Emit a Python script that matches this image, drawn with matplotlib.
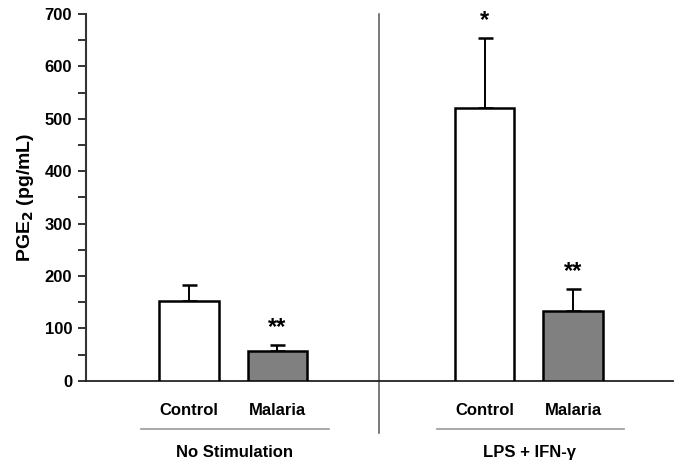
import matplotlib
matplotlib.use("Agg")
import matplotlib.pyplot as plt
import matplotlib.transforms as mtransforms
from matplotlib.ticker import MultipleLocator

plt.rcParams['font.family'] = ['Liberation Sans', 'DejaVu Sans']
plt.rcParams['font.weight'] = 'bold'

# ---- data ----
groups = ["No Stimulation", "LPS + IFN-\u03b3"]
categories = ["Control", "Malaria"]
means = [152, 56, 521, 134]
sem_upper = [31, 13, 134, 41]
significance = ["", "**", "*", "**"]
bar_colors = ["white", "#808080", "white", "#808080"]
y_ticks = [0, 100, 200, 300, 400, 500, 600, 700]

# ---- layout ----
group_gap = 3.34
width = 0.67
positions = []
for g in range(len(groups)):
    for c in range(len(categories)):
        positions.append(g * group_gap + c)

fig = plt.figure(figsize=(6.75, 4.72), dpi=100)
ax = fig.add_axes([86 / 675, 1 - 380.7 / 472, (673 - 86) / 675, (380.7 - 14) / 472])

ax.bar(positions, means, width=width, color=bar_colors, edgecolor='black',
       linewidth=1.8, zorder=3)
ax.errorbar(positions, means, yerr=[[0] * len(means), sem_upper], fmt='none',
            ecolor='black', elinewidth=1.4, capsize=5.4, capthick=1.8, zorder=2)

for x, m, e, s in zip(positions, means, sem_upper, significance):
    if s:
        ax.annotate(s, xy=(x, m + e), xytext=(0, 4), textcoords='offset points',
                    ha='center', va='bottom', fontsize=17, fontweight='bold')

ax.set_xlim(-1.164, 5.47)
ax.set_ylim(0, 700)
ax.set_yticks(y_ticks)
ax.yaxis.set_minor_locator(MultipleLocator(50))
ax.tick_params(axis='y', which='both', direction='out', length=6, width=1.4,
               color='#333333', labelsize=12, pad=4)
ax.set_xticks(positions)
ax.set_xticklabels(categories * len(groups), fontsize=12, fontweight='bold')
ax.tick_params(axis='x', length=0, pad=16)

for sp in ['top', 'right']:
    ax.spines[sp].set_visible(False)
ax.spines['left'].set_linewidth(1.5)
ax.spines['left'].set_color('#333333')
ax.spines['bottom'].set_linewidth(1.3)
ax.spines['bottom'].set_color('#222222')

ax.set_ylabel("PGE$_\\mathbf{2}$ (pg/mL)", fontsize=14, fontweight='bold', labelpad=6)

# group separators and labels
trans = mtransforms.blended_transform_factory(ax.transData, ax.transAxes)
div_x = (positions[1] + positions[2]) / 2 - 0.02
ax.plot([div_x, div_x], [-0.1426, 1.0], transform=trans, color='#555555',
        linewidth=1.1, clip_on=False, zorder=1)
for g, name in enumerate(groups):
    center = (positions[2 * g] + positions[2 * g + 1]) / 2 + 0.02
    ax.plot([center - 1.06, center + 1.06], [-0.1317, -0.1317], transform=trans,
            color='#999999', linewidth=1.2, clip_on=False)
    ax.text(center - 0.01, -0.197, name, transform=trans, ha='center', va='center',
            fontsize=12, fontweight='bold')

fig.savefig("out.png", dpi=100)
